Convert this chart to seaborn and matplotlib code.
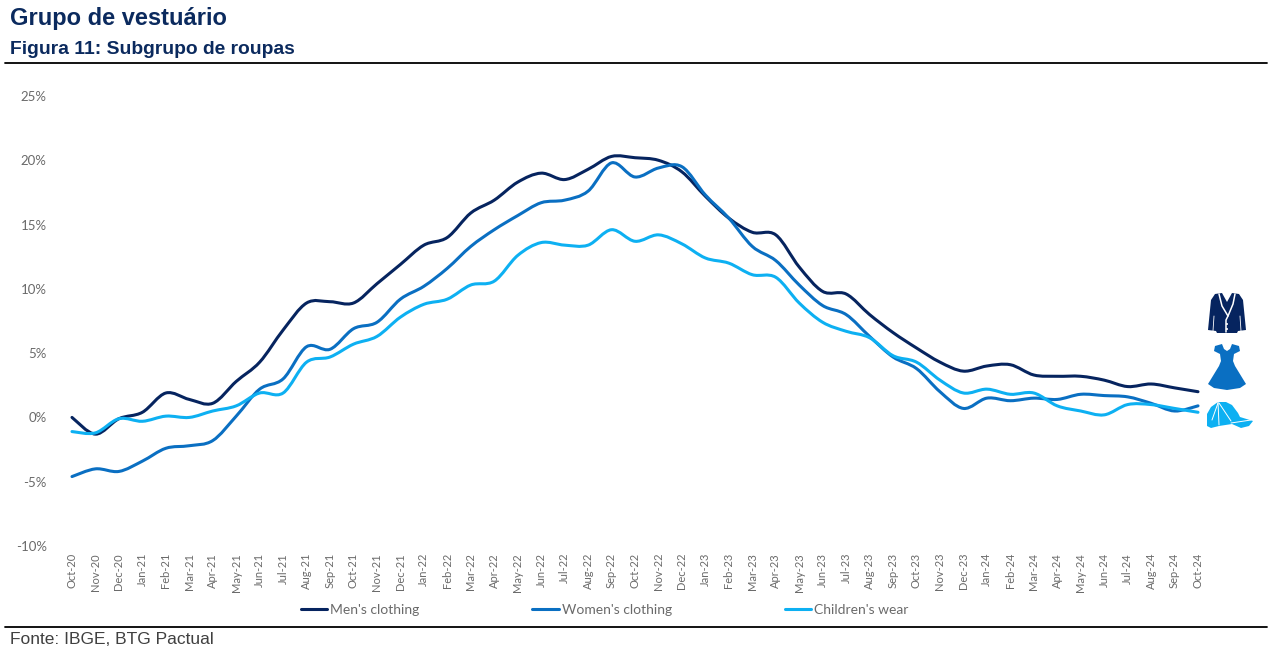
import pandas as pd
import seaborn as sns
import matplotlib.pyplot as plt
from matplotlib.lines import Line2D
from matplotlib.patches import PathPatch, Polygon, Circle
from matplotlib.path import Path

months = ["Oct-20", "Nov-20", "Dec-20", "Jan-21", "Feb-21", "Mar-21", "Apr-21", "May-21", "Jun-21",
          "Jul-21", "Aug-21", "Sep-21", "Oct-21", "Nov-21", "Dec-21", "Jan-22", "Feb-22", "Mar-22",
          "Apr-22", "May-22", "Jun-22", "Jul-22", "Aug-22", "Sep-22", "Oct-22", "Nov-22", "Dec-22",
          "Jan-23", "Feb-23", "Mar-23", "Apr-23", "May-23", "Jun-23", "Jul-23", "Aug-23", "Sep-23",
          "Oct-23", "Nov-23", "Dec-23", "Jan-24", "Feb-24", "Mar-24", "Apr-24", "May-24", "Jun-24",
          "Jul-24", "Aug-24", "Sep-24", "Oct-24"]
mens = [0.0, -1.3, -0.1, 0.4, 1.9, 1.4, 1.1, 2.8, 4.3, 6.8, 8.9, 9.0, 8.9, 10.4, 11.9, 13.4, 14.0,
        15.9, 16.9, 18.3, 19.0, 18.5, 19.3, 20.3, 20.2, 20.0, 19.1, 17.2, 15.5, 14.4, 14.2, 11.7,
        9.8, 9.6, 8.0, 6.6, 5.4, 4.3, 3.6, 4.0, 4.1, 3.3, 3.2, 3.2, 2.9, 2.4, 2.6, 2.3, 2.0]
womens = [-4.6, -4.0, -4.2, -3.4, -2.4, -2.2, -1.8, 0.1, 2.2, 3.0, 5.5, 5.3, 6.9, 7.4, 9.2, 10.2,
          11.6, 13.3, 14.6, 15.7, 16.7, 16.9, 17.6, 19.8, 18.7, 19.4, 19.5, 17.3, 15.5, 13.3, 12.2,
          10.3, 8.7, 8.0, 6.3, 4.7, 3.8, 2.0, 0.7, 1.5, 1.3, 1.5, 1.4, 1.8, 1.7, 1.6, 1.1, 0.5, 0.9]
childrens = [-1.1, -1.2, -0.1, -0.3, 0.1, 0.0, 0.5, 0.9, 1.9, 1.9, 4.3, 4.7, 5.7, 6.3, 7.8, 8.8,
             9.2, 10.3, 10.6, 12.6, 13.6, 13.4, 13.4, 14.6, 13.7, 14.2, 13.5, 12.4, 12.0, 11.1,
             10.9, 8.9, 7.4, 6.7, 6.2, 4.8, 4.3, 2.9, 1.9, 2.2, 1.8, 1.9, 0.9, 0.5, 0.2, 1.0, 1.0,
             0.7, 0.4]
y_ticks = [-10, -5, 0, 5, 10, 15, 20, 25]
series_names = ["Men's clothing", "Women's clothing", "Children's wear"]
series_colors = ["#06245f", "#0a6fc2", "#0db0f2"]

W, H = 1277, 659
FIRST_X, LAST_X = 72, 1198
AX_LEFT, AX_RIGHT = 55, 1215
TOP_Y, BOTTOM_Y = 96, 546


def smooth_path(xy):
    """Bezier path through the points, the way Excel smooths its lines."""
    verts = [tuple(xy[0])]
    codes = [Path.MOVETO]
    n = len(xy)
    for i in range(n - 1):
        p0 = xy[max(i - 1, 0)]
        p1 = xy[i]
        p2 = xy[i + 1]
        p3 = xy[min(i + 2, n - 1)]
        verts += [tuple(p1 + (p2 - p0) / 6), tuple(p2 - (p3 - p1) / 6), tuple(p2)]
        codes += [Path.CURVE4] * 3
    return Path(verts, codes)


def draw_icons(ov):
    # Jacket
    ov.add_patch(Polygon([(1215, 294), (1222, 293), (1227, 302), (1232, 293), (1239, 294), (1243, 300),
                          (1246, 330), (1238, 331), (1237, 333), (1217, 333), (1216, 331), (1208, 330),
                          (1211, 300)], closed=True, fc="#06245f", ec="none"))
    ov.plot([1219, 1222, 1228, 1226, 1226], [294, 306, 316, 320, 332], color="white", lw=1.1)
    ov.plot([1235, 1233, 1228], [294, 304, 316], color="white", lw=1.1)
    ov.plot([1214, 1213], [316, 331], color="white", lw=0.6)
    ov.plot([1240, 1241], [316, 331], color="white", lw=0.6)
    ov.add_patch(Circle((1227, 324), 1.0, fc="white", ec="none"))
    ov.add_patch(Circle((1227, 329), 1.0, fc="white", ec="none"))
    # Dress
    ov.add_patch(Polygon([(1215, 346), (1222, 344), (1224, 349), (1227, 351), (1230, 349), (1232, 344),
                          (1239, 346), (1240, 351), (1234, 354), (1233, 361), (1235, 366), (1246, 384),
                          (1240, 388), (1227, 390), (1214, 388), (1208, 384), (1219, 366), (1221, 361),
                          (1220, 354), (1214, 351)], closed=True, fc="#0a6fc2", ec="none"))
    # Cap
    ov.add_patch(Polygon([(1207, 426), (1207, 414), (1211, 407), (1218, 402), (1226, 402), (1232, 405),
                          (1238, 413), (1240, 417), (1253, 421), (1249, 426), (1241, 428), (1232, 424),
                          (1219, 426), (1211, 428)], closed=True, fc="#0db0f2", ec="none"))
    ov.plot([1218, 1219], [402, 425], color="white", lw=0.7)
    ov.plot([1218, 1212], [403, 420], color="white", lw=0.7)
    ov.plot([1219, 1231], [403, 421], color="white", lw=0.7)
    ov.plot([1231, 1251], [423, 420], color="white", lw=0.7)


sns.set_theme(style="white")
plt.rcParams["font.family"] = ["Lato", "DejaVu Sans"]

df = pd.DataFrame({"pos": list(range(len(months))) * 3,
                   "value": mens + womens + childrens,
                   "series": [n for n in series_names for _ in months]})

fig = plt.figure(figsize=(W / 100, H / 100), dpi=100)
ax = fig.add_axes([AX_LEFT / W, 1 - BOTTOM_Y / H, (AX_RIGHT - AX_LEFT) / W, (BOTTOM_Y - TOP_Y) / H])
sns.lineplot(data=df, x="pos", y="value", hue="series", hue_order=series_names,
             palette=series_colors, linewidth=2.2, legend=False, ax=ax)

# Swap each polyline for a curve through the same points
for line, color in zip(ax.get_lines(), series_colors):
    ax.add_patch(PathPatch(smooth_path(line.get_xydata()), fc="none", ec=color, lw=2.2,
                           capstyle="round", joinstyle="round"))
    line.set_visible(False)

step = (LAST_X - FIRST_X) / (len(months) - 1)
ax.set_xlim((AX_LEFT - FIRST_X) / step, (AX_RIGHT - FIRST_X) / step)
ax.set_ylim(y_ticks[0], y_ticks[-1])
ax.set_xticks(range(len(months)))
ax.set_xticklabels(months, rotation=90, fontsize=8, color="#6a6a6a", ha="center", va="top")
ax.set_yticks(y_ticks)
ax.set_yticklabels([f"{t}%" for t in y_ticks], fontsize=9.5, color="#6a6a6a")
ax.tick_params(axis="x", length=0, pad=5)
ax.tick_params(axis="y", length=0, pad=6)
ax.set_xlabel("")
ax.set_ylabel("")
ax.grid(False)
sns.despine(ax=ax, left=True, bottom=True)

handles = [Line2D([0], [0], color=c, lw=2.2) for c in series_colors]
fig.legend(handles, series_names, loc="center left", bbox_to_anchor=(288 / W, 1 - 610 / H), ncol=3,
           frameon=False, fontsize=10, labelcolor="#6a6a6a", handlelength=1.9, handletextpad=0.25,
           columnspacing=8.1)

# Report frame: headings, rules and icons, in pixel coordinates
ov = fig.add_axes([0, 0, 1, 1], zorder=5)
ov.set_xlim(0, W)
ov.set_ylim(H, 0)
ov.axis("off")
ov.plot([5, 1267], [63, 63], color="black", lw=1.3)
ov.plot([5, 1267], [627, 627], color="black", lw=1.3)
ov.text(10, 18, "Grupo de vestuário", fontsize=17, fontweight="bold", color="#0b2a5e",
        family="Liberation Sans", va="center")
ov.text(10, 50, "Figura 11: Subgrupo de roupas", fontsize=13.9, fontweight="bold", color="#0b2a5e",
        family="Liberation Sans", va="center")
ov.text(10, 639, "Fonte: IBGE, BTG Pactual", fontsize=12.5, color="#404040",
        family="Liberation Sans", va="center")
draw_icons(ov)

fig.savefig("out.png", dpi=100)
plt.close(fig)
